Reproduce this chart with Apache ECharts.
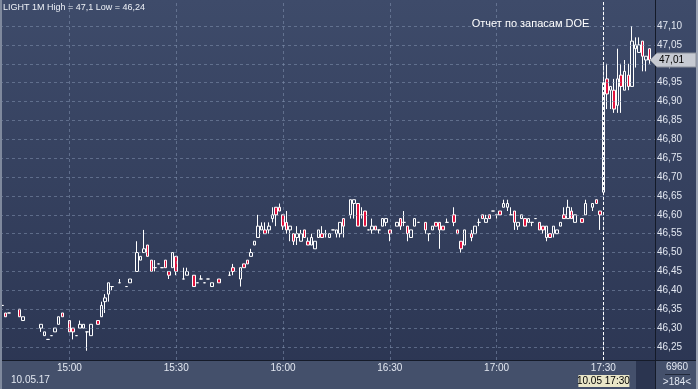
<!DOCTYPE html>
<html><head><meta charset="utf-8">
<script src="https://cdn.jsdelivr.net/npm/echarts@6/dist/echarts.min.js"></script>
<style>html,body{margin:0;padding:0;background:#2b3551}#c{width:698px;height:389px}</style>
</head><body><div id="c"></div>
<script>
// minutes relative to 15:00
const minutes = [-19,-18,-17,-14,-13,-8,-7,-6,-5,-4,
 -3,-2,0,1,2,3,4,5,6,8,
 9,10,11,12,14,16,17,19,20,21,
 22,23,24,25,26,27,28,29,30,32,
 33,35,36,37,38,39,40,42,45,46,
 48,49,50,51,52,53,54,55,56,57,
 58,59,60,61,62,63,64,65,66,67,
 68,69,70,71,72,73,74,75,76,77,
 79,80,81,82,83,84,85,86,87,88,
 89,90,92,93,94,95,96,97,98,100,
 101,102,103,104,105,106,108,109,110,111,
 113,114,115,116,117,118,119,120,121,122,
 123,124,125,126,127,128,129,130,131,132,
 133,134,135,136,137,138,139,140,141,142,
 144,145,147,148,149,150,151,152,153,154,
 155,156,157,158,159,160,161,162,163];
const opens = [46.36,46.34,46.34,46.35,46.32,46.30,46.28,46.27,46.28,46.29,
 46.31,46.34,46.32,46.30,46.28,46.30,46.30,46.29,46.28,46.32,
 46.33,46.37,46.39,46.41,46.42,46.41,46.42,46.45,46.48,46.50,
 46.52,46.48,46.46,46.47,46.46,46.48,46.45,46.46,46.49,46.43,
 46.44,46.44,46.42,46.43,46.42,46.43,46.41,46.43,46.44,46.46,
 46.43,46.47,46.48,46.49,46.52,46.54,46.56,46.56,46.56,46.59,
 46.62,46.62,46.60,46.58,46.56,46.55,46.54,46.53,46.56,46.53,
 46.52,46.51,46.54,46.55,46.55,46.54,46.56,46.55,46.55,46.59,
 46.60,46.63,46.63,46.60,46.61,46.56,46.56,46.57,46.56,46.57,
 46.58,46.56,46.57,46.59,46.58,46.57,46.54,46.57,46.58,46.58,
 46.55,46.56,46.58,46.58,46.57,46.58,46.60,46.56,46.53,46.52,
 46.55,46.55,46.58,46.60,46.58,46.60,46.61,46.60,46.61,46.62,
 46.62,46.60,46.61,46.57,46.59,46.59,46.58,46.58,46.59,46.58,
 46.57,46.54,46.55,46.55,46.55,46.57,46.60,46.59,46.61,46.58,
 46.59,46.60,46.62,46.64,46.61,46.66,46.96,46.93,46.93,46.89,
 46.97,46.93,46.97,46.94,47.04,47.03,47.06,47.01,47.04];
const closes = [46.36,46.33,46.34,46.33,46.33,46.31,46.29,46.27,46.28,46.30,
 46.33,46.33,46.29,46.29,46.28,46.31,46.31,46.29,46.31,46.31,
 46.36,46.38,46.42,46.41,46.42,46.41,46.43,46.50,46.49,46.51,
 46.49,46.45,46.46,46.47,46.46,46.46,46.44,46.50,46.45,46.43,
 46.45,46.41,46.42,46.43,46.42,46.43,46.42,46.42,46.44,46.45,
 46.46,46.46,46.47,46.50,46.53,46.57,46.57,46.55,46.57,46.60,
 46.60,46.61,46.57,46.56,46.57,46.53,46.55,46.55,46.54,46.52,
 46.54,46.53,46.56,46.54,46.55,46.55,46.56,46.56,46.58,46.57,
 46.64,46.64,46.57,46.60,46.57,46.56,46.57,46.56,46.56,46.59,
 46.59,46.55,46.58,46.57,46.58,46.55,46.56,46.59,46.58,46.56,
 46.55,46.57,46.57,46.56,46.56,46.58,46.58,46.55,46.51,46.56,
 46.54,46.57,46.58,46.59,46.59,46.59,46.61,46.60,46.60,46.63,
 46.63,46.60,46.58,46.58,46.60,46.57,46.59,46.58,46.59,46.56,
 46.56,46.57,46.54,46.57,46.56,46.58,46.59,46.62,46.59,46.60,
 46.58,46.63,46.63,46.63,46.60,46.95,46.92,46.94,46.88,46.96,
 46.94,46.98,46.94,47.06,47.05,47.05,47.02,47.02,47.01];
const lows = [46.35,46.33,46.34,46.33,46.32,46.29,46.28,46.27,46.28,46.29,
 46.31,46.33,46.29,46.27,46.28,46.30,46.30,46.24,46.28,46.31,
 46.33,46.34,46.37,46.40,46.42,46.41,46.42,46.45,46.48,46.50,
 46.49,46.45,46.45,46.47,46.46,46.46,46.43,46.46,46.44,46.43,
 46.44,46.41,46.42,46.43,46.42,46.43,46.41,46.42,46.44,46.44,
 46.41,46.46,46.47,46.49,46.52,46.54,46.56,46.55,46.55,46.58,
 46.57,46.61,46.56,46.55,46.53,46.52,46.52,46.53,46.54,46.52,
 46.52,46.51,46.54,46.54,46.54,46.54,46.56,46.54,46.54,46.54,
 46.59,46.59,46.57,46.59,46.57,46.56,46.55,46.56,46.55,46.57,
 46.57,46.53,46.57,46.56,46.57,46.53,46.54,46.57,46.58,46.55,
 46.53,46.56,46.57,46.51,46.56,46.58,46.57,46.55,46.50,46.52,
 46.53,46.55,46.57,46.59,46.58,46.59,46.61,46.59,46.60,46.62,
 46.61,46.60,46.56,46.56,46.59,46.57,46.58,46.57,46.59,46.56,
 46.55,46.53,46.54,46.54,46.55,46.57,46.59,46.59,46.59,46.58,
 46.58,46.60,46.61,46.63,46.56,46.66,46.88,46.88,46.87,46.87,
 46.87,46.93,46.93,46.94,46.99,47.03,46.98,46.98,47.00];
const highs = [46.37,46.34,46.34,46.35,46.33,46.31,46.29,46.27,46.28,46.30,
 46.33,46.34,46.32,46.30,46.28,46.32,46.31,46.29,46.31,46.32,
 46.37,46.39,46.42,46.41,46.43,46.41,46.43,46.53,46.49,46.56,
 46.52,46.48,46.48,46.47,46.46,46.48,46.45,46.50,46.49,46.46,
 46.46,46.44,46.42,46.44,46.42,46.43,46.42,46.43,46.45,46.47,
 46.46,46.47,46.48,46.51,46.53,46.60,46.58,46.58,46.58,46.62,
 46.62,46.63,46.60,46.61,46.57,46.55,46.57,46.56,46.56,46.54,
 46.55,46.53,46.56,46.57,46.56,46.55,46.56,46.56,46.58,46.59,
 46.64,46.64,46.63,46.62,46.61,46.56,46.59,46.57,46.56,46.59,
 46.59,46.56,46.58,46.59,46.61,46.57,46.56,46.59,46.58,46.58,
 46.55,46.57,46.58,46.58,46.57,46.59,46.62,46.56,46.53,46.56,
 46.56,46.57,46.59,46.60,46.60,46.60,46.61,46.60,46.61,46.64,
 46.64,46.62,46.61,46.58,46.60,46.59,46.59,46.58,46.59,46.58,
 46.57,46.57,46.55,46.57,46.56,46.58,46.62,46.64,46.62,46.60,
 46.59,46.64,46.63,46.64,46.61,47.00,47.00,46.94,46.96,47.04,
 47.00,47.01,47.00,47.10,47.07,47.07,47.06,47.02,47.04];

const yTicks = [46.25,46.30,46.35,46.40,46.45,46.50,46.55,46.60,46.65,46.70,46.75,46.80,46.85,46.90,46.95,47.00,47.05,47.10];
const xTickLabels = ['15:00','15:30','16:00','16:30','17:00','17:30'];
const eventTime = '17:30';
const eventText = 'Отчет по запасам DOE';
const titleText = 'LIGHT 1M High = 47,1 Low = 46,24';
const dateText = '10.05.17';
const cursorText = '10.05 17:30';
const lastPrice = 47.01;
const volText = '6960';
const barsText = '>184<';
const firstMinute = -19, lastMinute = 164;
const yMin = 46.2155, yMax = 47.1689;

function lab(m){ const t = 15*60+m; const h = Math.floor(t/60), mm = t%60; return h + ':' + String(mm).padStart(2,'0'); }
const categories = [];
for (let m = firstMinute; m <= lastMinute; m++) categories.push(lab(m));
const ohlc = categories.map(() => '-');
minutes.forEach((m,k) => { ohlc[m-firstMinute] = [opens[k], closes[k], lows[k], highs[k]]; });

const FONT = '"Liberation Sans", Arial, sans-serif';
const TXT = '#e2e7f1';
const chart = echarts.init(document.getElementById('c'), null, {renderer:'canvas'});
chart.setOption({
  animation: false,
  backgroundColor: {type:'linear', x:0, y:0, x2:0, y2:1, colorStops:[{offset:0,color:'#3e4b6a'},{offset:1,color:'#2b3552'}]},
  grid: {left: 0, top: 0, width: 655, height: 360, containLabel: false},
  xAxis: {type:'category', data: categories, boundaryGap: true,
    axisLine:{show:false}, axisTick:{show:false}, splitLine:{show:false},
    axisLabel:{interval:(i,v)=>xTickLabels.includes(v), color:TXT, fontSize:10, fontFamily:FONT, margin:3}},
  yAxis: {type:'value', position:'right', min:yMin, max:yMax, scale:true,
    axisLine:{show:true, lineStyle:{color:'#141a28', width:1}}, axisTick:{show:false}, splitLine:{show:false},
    axisLabel:{customValues: yTicks, formatter:v=>v.toFixed(2).replace('.',','), color:TXT, fontSize:10, fontFamily:FONT, margin:2, align:'left'}},
  series: [
    {type:'line', data:[], z:1, silent:true,
     markLine:{symbol:'none', silent:true, label:{show:false}, animation:false,
       lineStyle:{color:'rgba(130,145,175,0.55)', type:[3,3], width:1},
       data:[...yTicks.map(v=>({yAxis:v})), ...xTickLabels.map(t=>({xAxis:t}))]}},
    {type:'candlestick', data: ohlc, z:3, barWidth:3,
     itemStyle:{color:'rgba(0,0,0,0)', color0:'#e3123d', borderColor:'#ffffff', borderColor0:'#ffffff', borderColorDoji:'#ffffff', borderWidth:1}},
    {type:'line', data:[], z:5, silent:true,
     markLine:{symbol:'none', silent:true, label:{show:false}, animation:false,
       lineStyle:{color:'#ffffff', type:[3,2], width:1}, data:[{xAxis:eventTime}]}}
  ]
});

const py = chart.convertToPixel({yAxisIndex:0}, lastPrice);
const ex = chart.convertToPixel({xAxisIndex:0}, eventTime);
chart.setOption({graphic:[
  {type:'rect', z:-1, shape:{x:0,y:360,width:698,height:29}, style:{fill:'#44506b'}},
  {type:'rect', z:-1, shape:{x:0,y:360,width:698,height:1}, style:{fill:'#151b29'}},
  {type:'rect', z:-1, shape:{x:636,y:361,width:19,height:28}, style:{fill:'#2b3550'}},
  {type:'rect', z:-1, shape:{x:655,y:360,width:1,height:29}, style:{fill:'#151b29'}},
  {type:'rect', z:100, shape:{x:0,y:0,width:2,height:389}, style:{fill:'#7f899d'}},
  {type:'rect', z:100, shape:{x:696,y:0,width:2,height:389}, style:{fill:'#9ba3b3'}},
  {type:'text', z:100, style:{text:titleText, x:3, y:8, fill:'#eef1f7', font:'9px '+FONT, textVerticalAlign:'middle'}},
  {type:'text', z:100, style:{text:eventText, x:ex-14, y:24, fill:'#ffffff', font:'11px '+FONT, textAlign:'right', textVerticalAlign:'middle'}},
  {type:'polygon', z:100, shape:{points:[[650,py],[657,py-7],[696,py-7],[696,py+7],[657,py+7]]}, style:{fill:'#c6cad2', stroke:'#8b919c', lineWidth:1}},
  {type:'text', z:101, style:{text:lastPrice.toFixed(2).replace('.',','), x:659, y:py, fill:'#000', font:'10px '+FONT, textVerticalAlign:'middle'}},
  {type:'text', z:100, style:{text:dateText, x:11, y:380, fill:TXT, font:'10px '+FONT, textVerticalAlign:'middle'}},
  {type:'rect', z:100, shape:{x:ex-25,y:375,width:51,height:12}, style:{fill:'#e9e6c8'}},
  {type:'text', z:101, style:{text:cursorText, x:ex, y:381, fill:'#000', font:'10px '+FONT, textAlign:'center', textVerticalAlign:'middle'}},
  {type:'text', z:100, style:{text:volText, x:677, y:367, fill:TXT, font:'10px '+FONT, textAlign:'center', textVerticalAlign:'middle'}},
  {type:'rect', z:100, shape:{x:665,y:374,width:25,height:1}, style:{fill:'#20283a'}},
  {type:'text', z:100, style:{text:barsText, x:677, y:382, fill:TXT, font:'10px '+FONT, textAlign:'center', textVerticalAlign:'middle'}}
]});
</script></body></html>
